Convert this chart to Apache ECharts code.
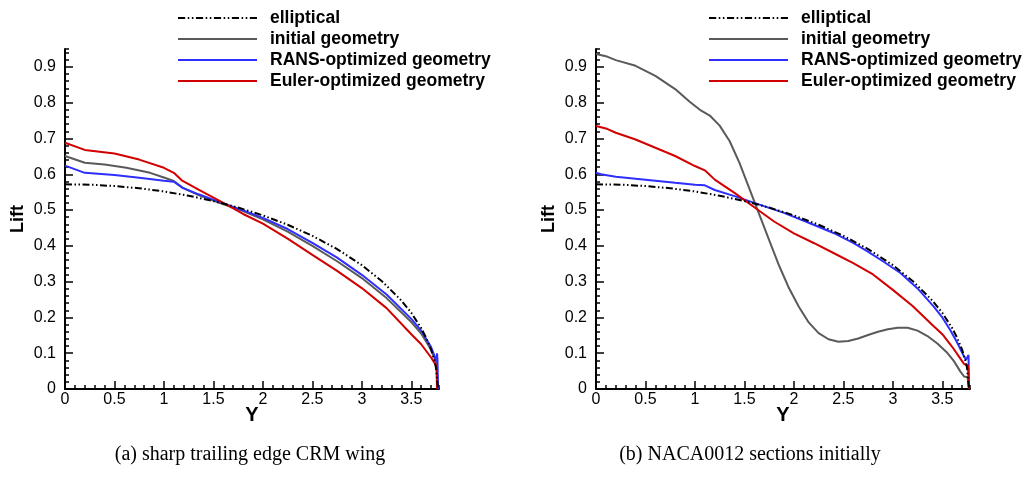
<!DOCTYPE html>
<html>
<head>
<meta charset="utf-8">
<title>Lift distribution</title>
<script src="https://cdn.jsdelivr.net/npm/echarts@6/dist/echarts.min.js"></script>
<style>
  html, body { margin: 0; padding: 0; background: #fff; }
  #chart { width: 1026px; height: 482px; }
</style>
</head>
<body>
<div id="chart"></div>
<script>
  var seriesNames = ['elliptical', 'initial geometry', 'RANS-optimized geometry', 'Euler-optimized geometry'];
  var captions = ['(a) sharp trailing edge CRM wing', '(b) NACA0012 sections initially'];

  // axis steps: labelled ticks and unlabelled minor ticks
  var xMajorStep = 0.5;
  var xMinorStep = 0.1;
  var yMajorStep = 0.1;
  var yMinorStep = 0.02;

  // [Y, Lift]
  var elliptical = [[0, 0.572], [0.25, 0.571], [0.5, 0.567], [0.75, 0.561], [1.0, 0.552], [1.25, 0.540],
    [1.5, 0.525], [1.75, 0.507], [2.0, 0.485], [2.25, 0.459], [2.5, 0.428], [2.75, 0.391], [3.0, 0.346],
    [3.2, 0.302], [3.4, 0.247], [3.5, 0.213], [3.6, 0.170], [3.65, 0.143], [3.7, 0.110], [3.73, 0.083],
    [3.75, 0.059], [3.77, 0]];

  var crmInitial = [[0, 0.651], [0.2, 0.632], [0.4, 0.627], [0.62, 0.618], [0.86, 0.604], [1.0, 0.591],
    [1.1, 0.581], [1.19, 0.562], [1.35, 0.542], [1.56, 0.520], [1.8, 0.497], [2.0, 0.474], [2.25, 0.440],
    [2.5, 0.400], [2.75, 0.357], [3.0, 0.310], [3.25, 0.254], [3.5, 0.187], [3.6, 0.155], [3.7, 0.110],
    [3.75, 0.075], [3.76, 0.070], [3.765, 0.030], [3.77, 0]];
  var crmRans = [[0, 0.624], [0.2, 0.604], [0.5, 0.598], [0.75, 0.590], [1.0, 0.582], [1.1, 0.579],
    [1.19, 0.562], [1.35, 0.544], [1.56, 0.523], [1.8, 0.499], [2.0, 0.478], [2.25, 0.447], [2.5, 0.408],
    [2.75, 0.367], [3.0, 0.319], [3.25, 0.264], [3.5, 0.196], [3.6, 0.163], [3.7, 0.117], [3.745, 0.085],
    [3.755, 0.078], [3.76, 0.100], [3.765, 0.080], [3.77, 0]];
  var crmEuler = [[0, 0.688], [0.2, 0.668], [0.5, 0.658], [0.75, 0.641], [1.0, 0.618], [1.1, 0.604],
    [1.18, 0.583], [1.35, 0.557], [1.6, 0.520], [1.8, 0.489], [2.0, 0.462], [2.25, 0.420], [2.5, 0.375],
    [2.75, 0.330], [3.0, 0.282], [3.25, 0.226], [3.5, 0.153], [3.6, 0.125], [3.7, 0.088], [3.75, 0.066],
    [3.755, 0.060], [3.76, 0]];

  var nacaInitial = [[0, 0.936], [0.1, 0.930], [0.2, 0.919], [0.4, 0.903], [0.6, 0.875], [0.8, 0.838],
    [0.95, 0.802], [1.05, 0.780], [1.15, 0.764], [1.25, 0.736], [1.35, 0.693], [1.45, 0.632], [1.55, 0.560],
    [1.65, 0.488], [1.75, 0.416], [1.85, 0.345], [1.95, 0.282], [2.05, 0.230], [2.15, 0.186], [2.25, 0.156],
    [2.35, 0.139], [2.45, 0.132], [2.55, 0.134], [2.65, 0.141], [2.75, 0.151], [2.85, 0.160], [2.95, 0.167],
    [3.05, 0.171], [3.15, 0.171], [3.25, 0.163], [3.35, 0.148], [3.45, 0.127], [3.55, 0.101], [3.62, 0.077],
    [3.68, 0.050], [3.72, 0.035], [3.755, 0.033], [3.77, 0]];
  var nacaRans = [[0, 0.604], [0.05, 0.600], [0.2, 0.593], [0.5, 0.585], [0.8, 0.576], [1.0, 0.571],
    [1.1, 0.569], [1.2, 0.556], [1.4, 0.539], [1.6, 0.520], [1.9, 0.492], [2.2, 0.459], [2.4, 0.436],
    [2.6, 0.408], [2.74, 0.385], [2.9, 0.357], [3.077, 0.324], [3.25, 0.281], [3.414, 0.230], [3.5, 0.200],
    [3.58, 0.165], [3.65, 0.130], [3.717, 0.092], [3.74, 0.082], [3.76, 0.082], [3.765, 0.095], [3.77, 0]];
  var nacaEuler = [[0, 0.735], [0.1, 0.728], [0.2, 0.716], [0.4, 0.697], [0.6, 0.674], [0.8, 0.651],
    [1.0, 0.623], [1.1, 0.611], [1.2, 0.585], [1.4, 0.548], [1.6, 0.508], [1.8, 0.468], [2.0, 0.435],
    [2.2, 0.408], [2.4, 0.380], [2.6, 0.352], [2.8, 0.320], [3.0, 0.277], [3.2, 0.232], [3.4, 0.179],
    [3.5, 0.153], [3.6, 0.118], [3.7, 0.078], [3.72, 0.070], [3.76, 0.066], [3.77, 0]];

  var colors = ['#000000', '#5a5a5a', '#2e2eff', '#d20000'];
  var dashPattern = [7, 2.5, 1.5, 2.5, 1.5, 2.5];
  var sans = 'Liberation Sans, Arial, sans-serif';

  function dashIconPath(pattern, length) {
    var parts = [];
    var pos = 0;
    var i = 0;
    while (pos < length) {
      var seg = pattern[i % pattern.length];
      if (i % 2 === 0) {
        var end = Math.min(pos + seg, length);
        parts.push('M' + pos + ',0H' + end + 'V2H' + pos + 'Z');
      }
      pos += seg;
      i++;
    }
    return 'path://' + parts.join(' ');
  }

  var solidIcon = 'path://M0,0H79V2H0Z';
  var dashIcon = dashIconPath(dashPattern, 77);

  function legendFor(left) {
    return {
      orient: 'vertical',
      left: left,
      top: 9,
      padding: 0,
      itemWidth: 79,
      itemHeight: 14,
      itemGap: 3,
      selectedMode: false,
      textStyle: {
        fontFamily: sans,
        fontSize: 17.5,
        fontWeight: 'bold',
        color: '#000',
        padding: [0, 0, 0, 8]
      },
      data: seriesNames.map(function (name, i) {
        return {
          name: name,
          icon: i === 0 ? dashIcon : solidIcon,
          itemStyle: { color: colors[i], borderWidth: 0 }
        };
      })
    };
  }

  var tickLine = { color: '#000', width: 1.5 };

  function majorX(grid) {
    return {
      type: 'value',
      gridIndex: grid,
      position: 'bottom',
      min: 0,
      max: 3.78,
      interval: xMajorStep,
      name: 'Y',
      nameLocation: 'middle',
      nameGap: 16,
      nameMoveOverlap: false,
      nameTextStyle: { fontFamily: sans, fontSize: 20, fontWeight: 'bold', color: '#000' },
      axisLine: { show: true, onZero: false, lineStyle: { color: '#000', width: 2 } },
      axisTick: { show: true, inside: true, length: 8, lineStyle: tickLine },
      axisLabel: { showMaxLabel: false, margin: 3, fontFamily: sans, fontSize: 16, color: '#000' },
      splitLine: { show: false }
    };
  }

  function minorX(grid) {
    return {
      type: 'value',
      gridIndex: grid,
      position: 'bottom',
      min: 0,
      max: 3.78,
      interval: xMinorStep,
      axisLine: { show: false, onZero: false },
      axisTick: { show: true, inside: true, length: 4, lineStyle: tickLine },
      axisLabel: { show: false },
      splitLine: { show: false }
    };
  }

  function majorY(grid) {
    return {
      type: 'value',
      gridIndex: grid,
      position: 'left',
      min: 0,
      max: 0.95,
      interval: yMajorStep,
      name: 'Lift',
      nameLocation: 'middle',
      nameGap: 38,
      nameTextStyle: { fontFamily: sans, fontSize: 18, fontWeight: 'bold', color: '#000' },
      axisLine: { show: true, onZero: false, lineStyle: { color: '#000', width: 2 } },
      axisTick: { show: true, inside: true, length: 8, lineStyle: tickLine },
      axisLabel: {
        showMaxLabel: false,
        margin: 9,
        fontFamily: sans,
        fontSize: 16,
        color: '#000',
        formatter: function (v) { return String(Math.round(v * 10) / 10); }
      },
      splitLine: { show: false }
    };
  }

  function minorY(grid) {
    return {
      type: 'value',
      gridIndex: grid,
      position: 'left',
      min: 0,
      max: 0.95,
      interval: yMinorStep,
      axisLine: { show: false, onZero: false },
      axisTick: { show: true, inside: true, length: 4, lineStyle: tickLine },
      axisLabel: { show: false },
      splitLine: { show: false }
    };
  }

  function lineSeries(name, data, axisIndex, color, type) {
    return {
      name: name,
      type: 'line',
      xAxisIndex: axisIndex,
      yAxisIndex: axisIndex,
      data: data,
      symbol: 'none',
      showSymbol: false,
      smooth: false,
      lineStyle: { color: color, width: 2, type: type || 'solid' },
      itemStyle: { color: color }
    };
  }

  var chart = echarts.init(document.getElementById('chart'));
  chart.setOption({
    animation: false,
    backgroundColor: '#fff',
    legend: [legendFor(178), legendFor(709)],
    grid: [
      { left: 65, top: 49, width: 374, height: 340 },
      { left: 596, top: 49, width: 374, height: 340 }
    ],
    xAxis: [majorX(0), minorX(0), majorX(1), minorX(1)],
    yAxis: [majorY(0), minorY(0), majorY(1), minorY(1)],
    graphic: [
      {
        type: 'text', x: 250, y: 455,
        style: { text: captions[0], textAlign: 'center', textVerticalAlign: 'middle',
          fontFamily: 'Liberation Serif, serif', fontSize: 20, fill: '#000' }
      },
      {
        type: 'text', x: 750, y: 455,
        style: { text: captions[1], textAlign: 'center', textVerticalAlign: 'middle',
          fontFamily: 'Liberation Serif, serif', fontSize: 20, fill: '#000' }
      }
    ],
    series: [
      lineSeries(seriesNames[1], crmInitial, 0, colors[1]),
      lineSeries(seriesNames[2], crmRans, 0, colors[2]),
      lineSeries(seriesNames[3], crmEuler, 0, colors[3]),
      lineSeries(seriesNames[0], elliptical, 0, colors[0], dashPattern),
      lineSeries(seriesNames[1], nacaInitial, 2, colors[1]),
      lineSeries(seriesNames[2], nacaRans, 2, colors[2]),
      lineSeries(seriesNames[3], nacaEuler, 2, colors[3]),
      lineSeries(seriesNames[0], elliptical, 2, colors[0], dashPattern)
    ]
  });
</script>
</body>
</html>
